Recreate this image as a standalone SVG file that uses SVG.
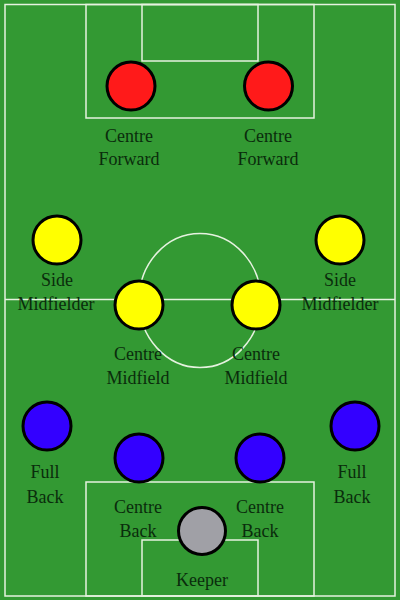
<svg xmlns="http://www.w3.org/2000/svg" width="400" height="600" viewBox="0 0 400 600">
<style>
.line{fill:none;stroke:#e6f2e0;stroke-width:1.5}
.p{stroke:#000;stroke-width:3}
.fw{fill:#ff1a1a}
.md{fill:#ffff00}
.df{fill:#3300ff}
.gk{fill:#a0a0a6}
.lbl{font-family:"Liberation Serif","Times New Roman",serif;font-size:18px;fill:#0a2c0c;text-anchor:middle}
</style>
<rect x="0" y="0" width="400" height="600" fill="#339933"/>
<g id="pitch">
<rect class="line" x="5" y="4.5" width="390" height="591.5"/>
<line class="line" x1="5" y1="299.5" x2="395" y2="299.5"/>
<ellipse class="line" cx="200" cy="300.5" rx="61" ry="67"/>
<rect class="line" x="86" y="4.5" width="228" height="113.5"/>
<rect class="line" x="142" y="4.5" width="116" height="56.5"/>
<rect class="line" x="86" y="482" width="228" height="114"/>
<rect class="line" x="142" y="540" width="116" height="56"/>
</g>
<g id="connectors"/>
<g id="cf1"><circle class="p fw" cx="131" cy="86" r="24"/><text class="lbl" x="129" y="142">Centre</text><text class="lbl" x="129" y="165">Forward</text></g>
<g id="cf2"><circle class="p fw" cx="268.5" cy="86" r="24"/><text class="lbl" x="268" y="142">Centre</text><text class="lbl" x="268" y="165">Forward</text></g>
<g id="sm1"><circle class="p md" cx="57" cy="240" r="24"/><text class="lbl" x="57" y="286">Side</text><text class="lbl" x="56" y="310">Midfielder</text></g>
<g id="sm2"><circle class="p md" cx="340" cy="240" r="24"/><text class="lbl" x="340" y="286">Side</text><text class="lbl" x="340" y="310">Midfielder</text></g>
<g id="cm1"><circle class="p md" cx="139" cy="305" r="24"/><text class="lbl" x="138" y="360">Centre</text><text class="lbl" x="138" y="384">Midfield</text></g>
<g id="cm2"><circle class="p md" cx="256" cy="305" r="24"/><text class="lbl" x="256" y="360">Centre</text><text class="lbl" x="256" y="384">Midfield</text></g>
<g id="fb1"><circle class="p df" cx="47" cy="426" r="24"/><text class="lbl" x="45" y="478">Full</text><text class="lbl" x="45" y="503">Back</text></g>
<g id="fb2"><circle class="p df" cx="355" cy="426" r="24"/><text class="lbl" x="352" y="478">Full</text><text class="lbl" x="352" y="503">Back</text></g>
<g id="cb1"><circle class="p df" cx="139" cy="458" r="24"/><text class="lbl" x="138" y="513">Centre</text><text class="lbl" x="138" y="537">Back</text></g>
<g id="cb2"><circle class="p df" cx="260" cy="458" r="24"/><text class="lbl" x="260" y="513">Centre</text><text class="lbl" x="260" y="537">Back</text></g>
<g id="gk"><circle class="p gk" cx="202" cy="531" r="23.5"/><text class="lbl" x="202" y="586">Keeper</text></g>
</svg>
